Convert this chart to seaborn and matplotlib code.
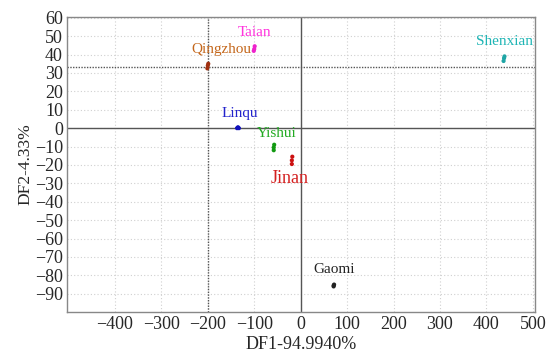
import matplotlib
matplotlib.use("Agg")
import matplotlib.pyplot as plt
import seaborn as sns
import pandas as pd

sns.set_style("white")
plt.rcParams['font.family'] = ['Liberation Serif', 'DejaVu Serif']

# Group names and replicate scores (DF1, DF2)
groups = ["Taian", "Qingzhou", "Shenxian", "Linqu", "Yishui", "Jinan", "Gaomi"]
df1 = {
    "Taian": [-101, -100, -99],
    "Qingzhou": [-201, -200, -199],
    "Shenxian": [437, 438, 439],
    "Linqu": [-137, -135, -133],
    "Yishui": [-58, -58, -57],
    "Jinan": [-19, -19, -18],
    "Gaomi": [71, 71, 72],
}
df2 = {
    "Taian": [42, 43, 44.5],
    "Qingzhou": [32.5, 34, 35],
    "Shenxian": [36.5, 38, 39],
    "Linqu": [0, 0.5, 0],
    "Yishui": [-12, -10.5, -9],
    "Jinan": [-19.5, -17.5, -15.5],
    "Gaomi": [-86, -85.5, -85],
}
label_x = [-99, -170, 439, -131, -52, -24, 71]
label_y = [52, 42.6, 47, 7.7, -2.7, -27.5, -77]
label_size = [11, 11, 11, 11, 11, 13, 11]
colors = ["#ff33dd", "#c4661a", "#1fb5b5", "#2222cc", "#22aa22", "#d42020", "#222222"]
point_colors = ["#ee22cc", "#a03010", "#1fa5a5", "#1111bb", "#119911", "#cc1111", "#222222"]
ref_x = -200
ref_y = 33
xticks = [-400, -300, -200, -100, 0, 100, 200, 300, 400, 500]
yticks = [60, 50, 40, 30, 20, 10, 0, -10, -20, -30, -40, -50, -60, -70, -80, -90]

rows = []
for g in groups:
    for a, b in zip(df1[g], df2[g]):
        rows.append({"DF1": a, "DF2": b, "group": g})
data = pd.DataFrame(rows)

fig, ax = plt.subplots(figsize=(5.5, 3.58), dpi=100)
fig.subplots_adjust(left=0.122, right=0.973, top=0.953, bottom=0.128)

ax.set_xlim(-503, 505)
ax.set_ylim(-100, 60.5)
ax.set_xticks(xticks)
ax.set_yticks(yticks)
ax.grid(True, color="#d0d0d0", linestyle=(0, (1, 2)), linewidth=0.8)
ax.set_axisbelow(True)

ax.axvline(0, color="#555555", linewidth=1.0, zorder=1)
ax.axhline(0, color="#555555", linewidth=1.0, zorder=1)
ax.axvline(ref_x, color="#555555", linewidth=1.0, linestyle=(0, (1, 1)), zorder=1)
ax.axhline(ref_y, color="#555555", linewidth=1.0, linestyle=(0, (1, 1)), zorder=1)

sns.scatterplot(data=data, x="DF1", y="DF2", hue="group", palette=dict(zip(groups, point_colors)),
                s=9, edgecolor="none", legend=False, ax=ax, zorder=3)

for g, lx, ly, c, fs in zip(groups, label_x, label_y, colors, label_size):
    ax.text(lx, ly, g, color=c, fontsize=fs, ha="center", va="center")

for sp in ax.spines.values():
    sp.set_color("#888888")
    sp.set_linewidth(1.0)

ax.tick_params(axis="both", labelsize=13, length=3, direction="in", color="#888888", pad=3)
ax.set_xlabel("DF1-94.9940%", fontsize=13, labelpad=2)
ax.set_ylabel("DF2-4.33%", fontsize=12.5, labelpad=1)

fig.savefig("out.png", dpi=100)
